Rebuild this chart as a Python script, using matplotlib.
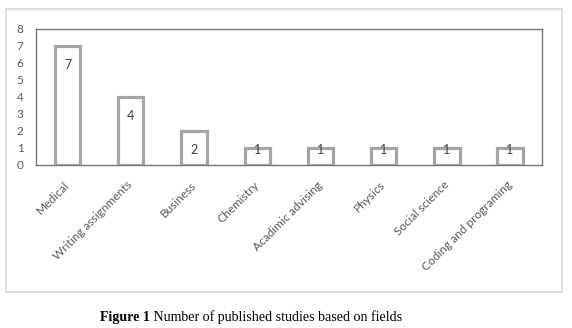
import matplotlib
matplotlib.use("Agg")
import matplotlib.pyplot as plt
from matplotlib.patches import Rectangle

categories = ["Medical", "Writing assignments", "Business", "Chemistry",
              "Acadimic advising", "Physics", "Social science", "Coding and programing"]
values = [7, 4, 2, 1, 1, 1, 1, 1]
yticks = [0, 1, 2, 3, 4, 5, 6, 7, 8]
caption_bold = "Figure 1"
caption_rest = " Number of published studies based on fields"

plt.rcParams['font.family'] = ['Lato', 'DejaVu Sans']

fig = plt.figure(figsize=(5.72, 3.28), dpi=100)
fig.patch.set_facecolor('white')

# outer chart border
fig.add_artist(Rectangle((0.0105, 0.1098), 0.972, 0.8628, transform=fig.transFigure,
                         fill=False, edgecolor='#d9d9d9', linewidth=1.2))

ax = fig.add_axes([0.0629, 0.497, 0.8841, 0.4146])
x = list(range(len(categories)))
bars = ax.bar(x, values, width=0.4, facecolor='white', edgecolor='#a5a5a5', linewidth=2.3, zorder=3)
ax.set_xlim(-0.5, len(categories) - 0.5)
ax.set_ylim(0, 8)
ax.set_yticks(yticks)
ax.set_yticklabels([str(t) for t in yticks], fontsize=8.5, color='#595959')
ax.set_xticks(x)
ax.set_xticklabels(categories, rotation=45, ha='right', va='center', rotation_mode='anchor',
                   fontsize=8.6, color='#595959')
ax.tick_params(axis='both', length=0)
ax.tick_params(axis='x', pad=13)
ax.tick_params(axis='y', pad=9)
for s in ax.spines.values():
    s.set_color('#767676')
    s.set_linewidth(1.0)

for xi, v in zip(x, values):
    ypos = v - 1.1 if v >= 2 else v - 0.12
    ax.text(xi, ypos, str(v), ha='center', va='center', fontsize=9, color='#404040', zorder=4)

t1 = fig.text(0.175, 0.022, caption_bold, fontsize=10.1, fontweight='bold',
              family=['Liberation Serif'], ha='left', va='baseline')
ax.annotate(caption_rest, xy=(1, 0), xycoords=t1, fontsize=10.1,
            family=['Liberation Serif'], ha='left', va='bottom', annotation_clip=False)

fig.savefig("out.png", dpi=100, facecolor='white')
